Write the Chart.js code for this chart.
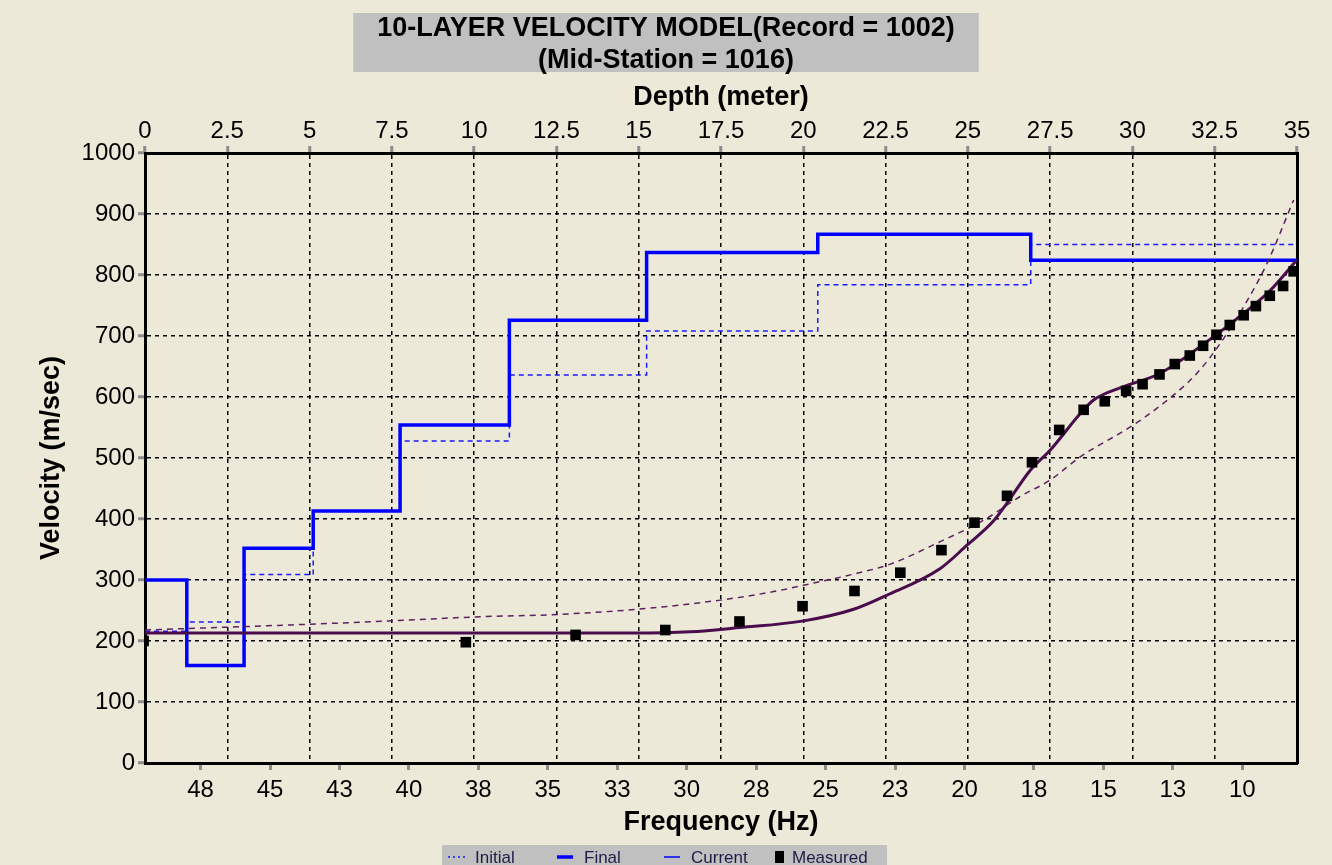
<!DOCTYPE html>
<html>
<head>
<meta charset="utf-8">
<title>10-Layer Velocity Model</title>
<script src="https://cdn.jsdelivr.net/npm/chart.js@4.4.1/dist/chart.umd.min.js"></script>
<style>
  html, body { margin: 0; padding: 0; background: #ece9d8; }
  #wrap { width: 1332px; height: 865px; }
</style>
</head>
<body>
<div id="wrap"><canvas id="chart" width="1332" height="865"></canvas></div>
<script>
// ===============================
//  Data
// ===============================

// layer tops in metres, the last layer runs to the bottom of the depth axis
const layerTops = [0, 1.27, 3.01, 5.11, 7.75, 11.07, 15.24, 20.44, 26.91];
const maxDepth = 35;
const initialVel = [216, 231, 309, 413, 528, 636, 708, 784, 850];
const finalVel = [300, 160, 352, 413, 554, 726, 837, 867, 824];
const currentVel = [300, 160, 352, 413, 554, 726, 837, 867, 824];

// measured dispersion points (Hz, m/s)
const measuredFreq = [49.55, 37.95, 34.0, 30.77, 28.1, 25.83, 23.96, 22.31, 20.83, 19.64, 18.47, 17.57,
  16.59, 15.71, 14.95, 14.18, 13.59, 12.98, 12.43, 11.89, 11.41, 10.93, 10.45, 9.95, 9.51, 9.01, 8.53, 8.15];
const measuredVel = [200, 198, 210, 218, 232, 257, 282, 312, 349, 394, 438, 493,
  546, 579, 593, 610, 621, 637, 654, 668, 684, 702, 718, 734, 749, 766, 782, 806];

// dispersion curve of the final model
const finalCurveFreq = [49.5, 40, 32, 29.88, 28.08, 25.79, 23.99, 22.85, 20.87, 19.91, 18.95, 18.47,
  17.63, 16.91, 15.83, 15.35, 14.27, 12.95, 11.03, 9.95, 8.99, 8.03];
const finalCurveVel = [213, 213, 213, 215, 222, 233, 252, 274, 319, 357, 397, 426,
  480, 513, 573, 595, 617, 639, 699, 737, 775, 825];

// dispersion curve of the initial model
const initialCurveFreq = [49.5, 42.72, 40.68, 37.32, 34.91, 31.79, 28.79, 26.87, 25.43, 23.87, 22.67, 20.87,
  19.31, 17.99, 16.91, 15.83, 14.03, 12.83, 11.63, 10.79, 9.95, 9.11, 8.15];
const initialCurveVel = [218, 229, 233, 240, 243, 252, 267, 281, 295, 311, 326, 363,
  398, 437, 464, 502, 551, 590, 639, 688, 748, 819, 923];

// axes
const depthTicks = [0, 2.5, 5, 7.5, 10, 12.5, 15, 17.5, 20, 22.5, 25, 27.5, 30, 32.5, 35];
const freqTicks = [47.5, 45, 42.5, 40, 37.5, 35, 32.5, 30, 27.5, 25, 22.5, 20, 17.5, 15, 12.5, 10];
const freqTickLabels = ['48', '45', '43', '40', '38', '35', '33', '30', '28', '25', '23', '20', '18', '15', '13', '10'];
const freqMin = 8.03;
const freqMax = 49.5;
const legendNames = ['Initial', 'Final', 'Current', 'Measured'];

// ===============================
//  Helpers
// ===============================
const FONT = "'Liberation Sans', Arial, sans-serif";
const BG = '#ece9d8';
const BLUE = '#0000ff';
const PURPLE = '#4a0c4c';

function layerSteps(vels) {
  const pts = layerTops.map((d, i) => ({ x: d, y: vels[i] }));
  pts.push({ x: maxDepth, y: vels[vels.length - 1] });
  return pts;
}

function pairs(xs, ys) {
  return xs.map((x, i) => ({ x, y: ys[i] }));
}

// page background + grey box behind the title
const backdrop = {
  id: 'backdrop',
  beforeDraw(chart) {
    const { ctx, width, height } = chart;
    ctx.save();
    ctx.fillStyle = BG;
    ctx.fillRect(0, 0, width, height);
    const tb = chart.titleBlock;
    if (tb) {
      ctx.font = 'bold 27px ' + FONT;
      const w = Math.max(...tb.options.text.map((t) => ctx.measureText(t).width));
      const cx = (tb.left + tb.right) / 2;
      ctx.fillStyle = '#c0c0c0';
      ctx.fillRect(cx - w / 2 - 24, 13, w + 48, 59);
    }
    ctx.restore();
  },
};

// legend drawn in a grey strip at the foot, same layout as the original program
const footLegend = {
  id: 'footLegend',
  afterDraw(chart) {
    const { ctx } = chart;
    const xs = [448, 557, 664, 775];
    const y = 857;
    ctx.save();
    ctx.fillStyle = '#c0c0c0';
    ctx.fillRect(442, 845, 445, 30);
    ctx.font = '17px ' + FONT;
    ctx.textBaseline = 'middle';
    legendNames.forEach((name, i) => {
      const ds = chart.data.datasets.find((d) => d.label === name);
      const x = xs[i];
      if (name === 'Measured') {
        ctx.fillStyle = '#000';
        ctx.fillRect(x, y - 6, 9, 12);
      } else {
        ctx.strokeStyle = ds.borderColor;
        ctx.lineWidth = ds.borderWidth;
        ctx.setLineDash(name === 'Initial' ? [2, 3] : []);
        ctx.beginPath();
        ctx.moveTo(x, y);
        ctx.lineTo(x + (name === 'Initial' ? 20 : 16), y);
        ctx.stroke();
        ctx.setLineDash([]);
      }
      ctx.fillStyle = '#1c1c48';
      ctx.fillText(name, x + (name === 'Measured' ? 17 : 27), y + 1);
    });
    ctx.restore();
  },
};

// ===============================
//  Chart
// ===============================
const ctx = document.getElementById('chart').getContext('2d');

new Chart(ctx, {
  type: 'line',
  data: {
    datasets: [
      {
        label: 'Measured',
        data: pairs(measuredFreq, measuredVel),
        xAxisID: 'freq',
        showLine: false,
        pointStyle: 'rect',
        pointRadius: 7.5,
        pointBackgroundColor: '#000',
        pointBorderColor: '#000',
        pointBorderWidth: 0,
      },
      {
        label: 'Final curve',
        data: pairs(finalCurveFreq, finalCurveVel),
        xAxisID: 'freq',
        borderColor: PURPLE,
        borderWidth: 3,
        pointRadius: 0,
        cubicInterpolationMode: 'monotone',
      },
      {
        label: 'Initial curve',
        data: pairs(initialCurveFreq, initialCurveVel),
        xAxisID: 'freq',
        borderColor: '#5e2060',
        borderWidth: 1.5,
        borderDash: [6, 5],
        pointRadius: 0,
        cubicInterpolationMode: 'monotone',
      },
      {
        label: 'Final',
        data: layerSteps(finalVel),
        xAxisID: 'x',
        stepped: 'before',
        borderColor: BLUE,
        borderWidth: 3.5,
        pointRadius: 0,
      },
      {
        label: 'Current',
        data: layerSteps(currentVel),
        xAxisID: 'x',
        stepped: 'before',
        borderColor: BLUE,
        borderWidth: 1.5,
        pointRadius: 0,
      },
      {
        label: 'Initial',
        data: layerSteps(initialVel),
        xAxisID: 'x',
        stepped: 'before',
        borderColor: '#1a1aff',
        borderWidth: 1.5,
        borderDash: [5, 4],
        pointRadius: 0,
      },
    ],
  },
  options: {
    responsive: false,
    devicePixelRatio: 1,
    animation: false,
    layout: { padding: 0 },
    plugins: {
      legend: { display: false },
      tooltip: { enabled: false },
      title: {
        display: true,
        text: ['10-LAYER VELOCITY MODEL(Record = 1002)', '(Mid-Station = 1016)'],
        color: '#000',
        font: { family: FONT, size: 27, weight: 'bold', lineHeight: 1.2 },
        padding: { top: 12, bottom: 0 },
      },
    },
    scales: {
      x: {
        type: 'linear',
        position: 'top',
        min: 0,
        max: maxDepth,
        afterBuildTicks: (scale) => { scale.ticks = depthTicks.map((v) => ({ value: v })); },
        afterFit: (scale) => { scale.height = 76.2; },
        ticks: {
          color: '#000',
          font: { family: FONT, size: 24 },
          padding: 0,
          maxRotation: 0,
          autoSkip: false,
          callback: (v) => String(v),
        },
        grid: { color: '#000', lineWidth: 1.5, tickColor: '#8c8c8c', tickWidth: 3, tickLength: 7 },
        border: { color: '#000', width: 3, dash: [4, 4] },
        title: {
          display: true,
          text: 'Depth (meter)',
          color: '#000',
          font: { family: FONT, size: 27, weight: 'bold' },
          padding: { top: 5, bottom: 0 },
        },
      },
      freq: {
        type: 'linear',
        position: 'bottom',
        reverse: true,
        min: freqMin,
        max: freqMax,
        afterBuildTicks: (scale) => { scale.ticks = freqTicks.map((v) => ({ value: v })); },
        afterFit: (scale) => { scale.height = 102; },
        ticks: {
          color: '#000',
          font: { family: FONT, size: 24 },
          padding: 6,
          maxRotation: 0,
          autoSkip: false,
          callback: (v) => freqTickLabels[freqTicks.indexOf(v)],
        },
        grid: { drawOnChartArea: false, tickColor: '#8c8c8c', tickWidth: 3, tickLength: 7 },
        border: { color: '#000', width: 3 },
        title: {
          display: true,
          text: 'Frequency (Hz)',
          color: '#000',
          font: { family: FONT, size: 27, weight: 'bold' },
          padding: { top: 0, bottom: 26 },
        },
      },
      y: {
        type: 'linear',
        position: 'left',
        min: 0,
        max: 1000,
        afterFit: (scale) => { scale.width = 145; },
        ticks: {
          stepSize: 100,
          color: '#000',
          font: { family: FONT, size: 24 },
          padding: 3,
          callback: (v) => String(v),
        },
        grid: { color: '#000', lineWidth: 1.5, tickColor: '#8c8c8c', tickWidth: 3, tickLength: 7 },
        border: { color: '#000', width: 3, dash: [4, 4] },
        title: {
          display: true,
          text: 'Velocity (m/sec)',
          color: '#000',
          font: { family: FONT, size: 27, weight: 'bold' },
          padding: { top: 35, bottom: 0 },
        },
      },
      yRight: {
        type: 'linear',
        position: 'right',
        min: 0,
        max: 1000,
        afterFit: (scale) => { scale.width = 35; },
        ticks: { display: false },
        grid: { display: false },
        border: { color: '#000', width: 3 },
      },
    },
  },
  plugins: [backdrop, footLegend],
});
</script>
</body>
</html>
